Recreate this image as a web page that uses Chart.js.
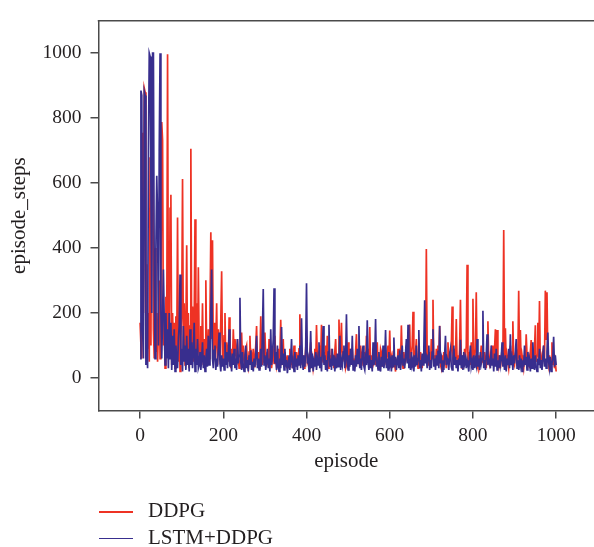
<!DOCTYPE html>
<html>
<head>
<meta charset="utf-8">
<script src="https://cdn.jsdelivr.net/npm/chart.js@4.4.1/dist/chart.umd.min.js"></script>
<style>
  html, body { margin: 0; padding: 0; background: #fff; }
  #wrap { position: relative; width: 594px; height: 547px; overflow: hidden; }
  #steps { position: absolute; left: 0; top: 0; }
  .keyline { position: absolute; left: 99px; width: 34px; height: 1.5px; }
  .keytext { position: absolute; left: 148px; font-size: 21px; line-height: 24px;
             font-family: "Liberation Serif", "DejaVu Serif", serif; color: #231f20; white-space: nowrap; }
</style>
</head>
<body>
<div id="wrap">
  <canvas id="steps" width="594" height="547"></canvas>
  <div class="keyline" style="top:511px;background:#ee3224"></div>
  <div class="keytext" style="top:498px">DDPG</div>
  <div class="keyline" style="top:537.5px;background:#382e8e"></div>
  <div class="keytext" style="top:525px">LSTM+DDPG</div>
</div>
<script>
// every 2nd episode
var episodes = [
  0,2,4,6,8,10,12,14,16,18,20,22,24,26,28,30,32,34,36,38,40,42,44,46,48,
  50,52,54,56,58,60,62,64,66,68,70,72,74,76,78,80,82,84,86,88,90,92,94,96,98,
  100,102,104,106,108,110,112,114,116,118,120,122,124,126,128,130,132,134,136,138,140,142,144,146,148,
  150,152,154,156,158,160,162,164,166,168,170,172,174,176,178,180,182,184,186,188,190,192,194,196,198,
  200,202,204,206,208,210,212,214,216,218,220,222,224,226,228,230,232,234,236,238,240,242,244,246,248,
  250,252,254,256,258,260,262,264,266,268,270,272,274,276,278,280,282,284,286,288,290,292,294,296,298,
  300,302,304,306,308,310,312,314,316,318,320,322,324,326,328,330,332,334,336,338,340,342,344,346,348,
  350,352,354,356,358,360,362,364,366,368,370,372,374,376,378,380,382,384,386,388,390,392,394,396,398,
  400,402,404,406,408,410,412,414,416,418,420,422,424,426,428,430,432,434,436,438,440,442,444,446,448,
  450,452,454,456,458,460,462,464,466,468,470,472,474,476,478,480,482,484,486,488,490,492,494,496,498,
  500,502,504,506,508,510,512,514,516,518,520,522,524,526,528,530,532,534,536,538,540,542,544,546,548,
  550,552,554,556,558,560,562,564,566,568,570,572,574,576,578,580,582,584,586,588,590,592,594,596,598,
  600,602,604,606,608,610,612,614,616,618,620,622,624,626,628,630,632,634,636,638,640,642,644,646,648,
  650,652,654,656,658,660,662,664,666,668,670,672,674,676,678,680,682,684,686,688,690,692,694,696,698,
  700,702,704,706,708,710,712,714,716,718,720,722,724,726,728,730,732,734,736,738,740,742,744,746,748,
  750,752,754,756,758,760,762,764,766,768,770,772,774,776,778,780,782,784,786,788,790,792,794,796,798,
  800,802,804,806,808,810,812,814,816,818,820,822,824,826,828,830,832,834,836,838,840,842,844,846,848,
  850,852,854,856,858,860,862,864,866,868,870,872,874,876,878,880,882,884,886,888,890,892,894,896,898,
  900,902,904,906,908,910,912,914,916,918,920,922,924,926,928,930,932,934,936,938,940,942,944,946,948,
  950,952,954,956,958,960,962,964,966,968,970,972,974,976,978,980,982,984,986,988,990,992,994,996,998,
  1000
];

// DDPG episode steps (0-140, then 142-1000 in rows of 25)
var ddpgSteps = [
  170,100,60,755,200,892,880,60,350,90,200,50,680,100,758,982,150,60,400,80,
  200,50,150,300,60,250,788,732,100,180,30,250,120,997,150,60,522,564,40,200,
  100,170,30,190,60,494,50,180,20,130,200,613,90,230,40,150,409,60,200,30,
  160,706,100,220,50,180,489,70,230,40,341,
  90,50,160,70,230,40,120,60,301,80,40,150,60,200,449,120,424,50,170,60,110,230,40,150,100,
  60,180,329,70,50,130,200,40,110,80,50,187,60,30,90,40,150,70,120,90,40,120,60,30,40,
  80,140,50,100,60,30,90,100,40,30,80,130,45,70,50,90,35,60,100,160,40,80,30,60,190,
  70,40,110,50,140,60,35,80,40,120,50,70,30,60,80,45,130,60,35,50,90,40,70,179,40,
  60,120,40,80,60,30,70,30,55,90,40,70,30,60,100,40,50,80,35,60,90,196,50,80,40,
  70,30,40,90,130,50,60,30,70,110,40,60,30,50,90,40,163,60,70,40,100,50,164,60,50,
  80,40,100,50,130,30,40,70,35,90,50,60,30,80,120,40,70,40,180,60,90,170,50,70,60,
  90,30,40,70,110,40,50,90,60,90,40,60,30,80,135,45,60,70,35,100,50,70,40,60,80,
  40,130,60,90,50,157,40,70,30,90,50,60,40,80,110,30,60,40,90,80,35,60,40,90,60,
  40,80,100,50,146,40,60,30,70,60,40,20,60,40,90,50,70,40,162,60,30,80,40,60,100,
  50,80,60,165,40,70,100,204,60,40,80,120,50,30,70,40,80,60,30,60,90,100,50,397,60,
  40,50,80,40,120,60,241,40,70,40,90,60,100,50,161,40,30,70,40,80,50,60,30,70,110,
  40,70,60,90,220,60,40,90,60,182,40,70,40,90,241,50,30,70,40,90,60,100,349,60,50,
  80,40,110,60,244,50,60,90,264,40,30,70,40,60,100,50,70,40,80,60,30,90,175,50,40,
  70,50,100,40,60,90,150,50,148,60,40,70,30,60,90,50,456,60,153,40,70,50,30,60,100,
  50,80,175,50,40,70,90,40,60,269,60,148,40,70,50,30,60,40,135,70,40,60,30,80,117,
  40,60,30,90,162,50,70,170,60,237,40,60,30,80,100,50,269,120,264,60,40,70,30,60,110,
  40,70,30,50,20
];

// LSTM+DDPG episode steps, same episodes
var lstmSteps = [
  60,885,870,150,60,882,870,40,100,30,700,1000,990,600,200,1000,1000,300,60,400,
  623,500,100,700,1000,200,60,190,334,180,40,200,60,150,30,200,60,170,25,130,
  40,150,20,100,60,30,120,160,319,40,90,20,160,50,100,25,130,40,90,20,
  150,40,110,30,80,170,20,90,40,120,30,
  40,80,25,60,110,30,70,20,55,90,35,130,40,75,200,334,60,30,85,100,25,60,35,90,140,
  45,20,70,35,60,25,110,40,80,30,65,150,35,55,20,75,40,90,30,60,25,120,45,70,247,
  50,25,80,35,20,65,100,30,55,20,70,40,85,25,50,20,60,35,75,130,30,60,25,45,90,
  35,140,274,40,70,25,55,90,30,60,20,150,40,70,120,276,45,80,25,100,35,20,60,30,157,
  40,75,25,90,35,55,15,40,70,25,60,120,30,50,20,80,35,60,25,70,40,100,30,184,50,
  25,70,35,90,292,45,60,20,55,145,30,75,20,50,35,80,25,60,40,110,30,65,20,90,160,
  40,70,25,55,20,80,164,35,60,25,90,40,70,20,50,30,75,35,60,130,25,55,40,80,100,
  30,60,196,45,25,70,35,90,40,130,25,55,20,70,35,90,45,160,30,60,25,80,100,35,25,
  60,40,178,50,25,70,30,55,20,110,40,60,182,35,50,25,80,40,20,65,35,100,30,55,148,
  30,60,25,80,40,55,20,70,35,125,40,65,25,50,70,30,85,25,55,100,40,60,30,75,120,
  45,164,30,60,25,80,40,55,20,70,35,100,40,60,148,30,55,20,75,40,90,239,45,60,30,
  70,100,25,55,30,80,150,35,60,25,70,40,85,30,160,45,60,20,55,25,70,130,40,60,50,
  25,75,90,35,25,60,100,40,65,30,55,20,60,40,118,30,70,25,80,45,60,30,55,40,20,
  65,100,35,50,25,70,30,55,40,120,35,60,25,80,45,60,207,30,55,25,70,135,40,60,50,
  30,100,40,60,20,75,35,90,25,55,30,70,40,60,110,35,55,25,70,20,60,40,90,30,135,
  40,60,25,70,45,80,120,30,55,25,70,40,60,20,55,35,100,40,65,25,80,35,55,20,60,
  30,110,50,25,70,35,20,60,40,90,30,55,25,65,100,35,60,30,80,140,50,30,65,20,45,
  60,127,35,70,40
];

var xTicks = [0, 200, 400, 600, 800, 1000];
var yTicks = [0, 200, 400, 600, 800, 1000];

var serif = '"Liberation Serif", "DejaVu Serif", serif';
var axisColor = '#4a4a4a';
var textColor = '#231f20';

function toPoints(values) {
  return values.map(function(v, i) { return {x: episodes[i], y: v}; });
}

// top edge of the frame (left and bottom come from the axes)
var frameTop = {
  id: 'frameTop',
  afterDraw: function(chart) {
    var ctx = chart.ctx, a = chart.chartArea;
    ctx.save();
    ctx.strokeStyle = axisColor;
    ctx.lineWidth = 1.5;
    ctx.beginPath();
    ctx.moveTo(a.left - 0.75, a.top);
    ctx.lineTo(a.right, a.top);
    ctx.stroke();
    ctx.restore();
  }
};

function plain(v) { return String(v); }

new Chart('steps', {
  type: 'line',
  data: {
    datasets: [
      {
        label: 'DDPG',
        data: toPoints(ddpgSteps),
        borderColor: '#ee3224',
        borderWidth: 1.7,
        pointRadius: 0,
        fill: false,
        tension: 0,
        order: 2
      },
      {
        label: 'LSTM+DDPG',
        data: toPoints(lstmSteps),
        borderColor: '#382e8e',
        borderWidth: 1.7,
        pointRadius: 0,
        fill: false,
        tension: 0,
        order: 1
      }
    ]
  },
  options: {
    responsive: false,
    animation: false,
    devicePixelRatio: 1,
    layout: { padding: { left: 0, top: 9, right: 0, bottom: 66.5 } },
    plugins: { legend: { display: false }, tooltip: { enabled: false } },
    scales: {
      x: {
        type: 'linear',
        min: -100,
        max: 1091,
        afterBuildTicks: function(s) { s.ticks = xTicks.map(function(v) { return {value: v}; }); },
        afterFit: function(s) { s.height = 70; },
        grid: { drawOnChartArea: false, tickLength: 8, color: axisColor, lineWidth: 1.5 },
        border: { color: axisColor, width: 1.5 },
        ticks: { font: { family: serif, size: 19.5 }, color: textColor, padding: 6, maxRotation: 0,
                 autoSkip: false, callback: plain },
        title: { display: true, text: 'episode', font: { family: serif, size: 21 }, color: textColor,
                 padding: { top: 0, bottom: 6 } }
      },
      y: {
        type: 'linear',
        min: -100,
        max: 1100,
        afterBuildTicks: function(s) { s.ticks = yTicks.map(function(v) { return {value: v}; }); },
        afterFit: function(s) { s.width = 98.5; },
        grid: { drawOnChartArea: false, tickLength: 8, color: axisColor, lineWidth: 1.5 },
        border: { color: axisColor, width: 1.5 },
        ticks: { font: { family: serif, size: 19.5 }, color: textColor, padding: 9, callback: plain },
        title: { display: true, text: 'episode_steps', font: { family: serif, size: 21 }, color: textColor,
                 padding: { top: 7, bottom: 0 } }
      }
    }
  },
  plugins: [frameTop]
});
</script>
</body>
</html>
